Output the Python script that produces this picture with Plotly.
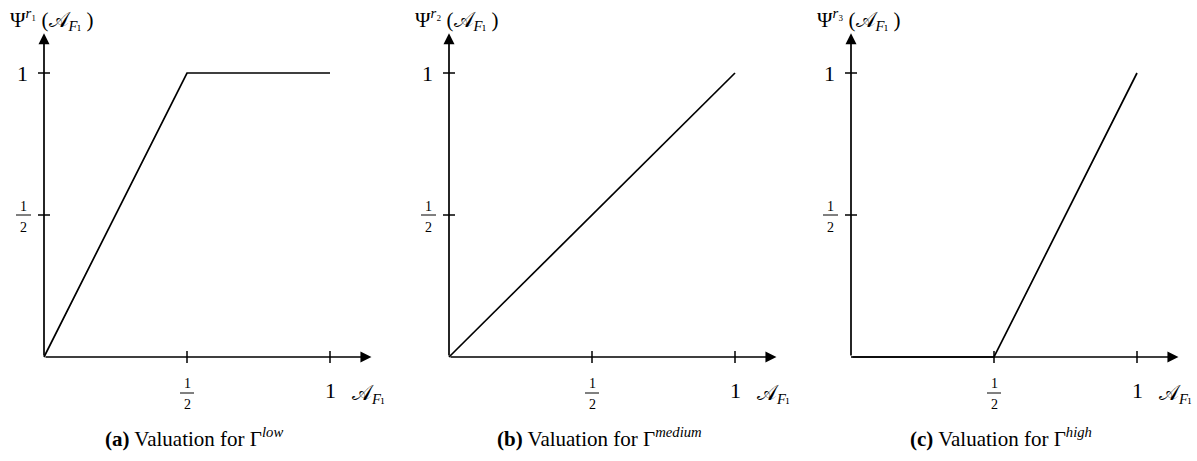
import plotly.graph_objects as go

# Piecewise-linear valuation curves (x = 𝒜_F_l, y = Ψ)
low_x = [0, 0.5, 1]
low_y = [0, 1, 1]
medium_x = [0, 1]
medium_y = [0, 1]
high_x = [0, 0.5, 1]
high_y = [0, 0, 1]

x_ticks = [0.5, 1]
y_ticks = [0.5, 1]
tick_labels = ["1/2", "1"]

y_titles = ["Ψ<sup><i>r</i>₁</sup> (𝒜<sub><i>F</i>ₗ</sub> )",
            "Ψ<sup><i>r</i>₂</sup> (𝒜<sub><i>F</i>ₗ</sub> )",
            "Ψ<sup><i>r</i>₃</sup> (𝒜<sub><i>F</i>ₗ</sub> )"]
x_title = "𝒜<sub><i>F</i>ₗ</sub>"
captions = ["<b>(a)</b> Valuation for Γ<sup><i>low</i></sup>",
            "<b>(b)</b> Valuation for Γ<sup><i>medium</i></sup>",
            "<b>(c)</b> Valuation for Γ<sup><i>high</i></sup>"]

series = [(low_x, low_y), (medium_x, medium_y), (high_x, high_y)]

W, H = 1197, 461
PX_X = 286.0   # pixels per unit on x
PX_Y = 284.0   # pixels per unit on y
origins_px = [44, 449, 851]   # left edge of each panel's origin
origin_y_px = 357             # from top
XR = [-0.12, 1.2]
YR = [-0.3, 1.22]

FONT = "Liberation Serif, DejaVu Serif, serif"
INK = "#000000"

fig = go.Figure()
layout = dict(width=W, height=H, margin=dict(l=0, r=0, t=0, b=0),
              paper_bgcolor="white", plot_bgcolor="white", showlegend=False,
              font=dict(family=FONT, color=INK))
shapes, annotations = [], []

for i, (xs, ys) in enumerate(series):
    n = "" if i == 0 else str(i + 1)
    ox = origins_px[i]
    x0 = (ox + XR[0] * PX_X) / W
    x1 = (ox + XR[1] * PX_X) / W
    oy = H - origin_y_px
    y0 = (oy + YR[0] * PX_Y) / H
    y1 = (oy + YR[1] * PX_Y) / H
    ax_common = dict(visible=False, fixedrange=True)
    layout["xaxis" + n] = dict(domain=[x0, x1], range=XR, anchor="y" + n, **ax_common)
    layout["yaxis" + n] = dict(domain=[y0, y1], range=YR, anchor="x" + n, **ax_common)
    xr, yr = "x" + n, "y" + n

    fig.add_trace(go.Scatter(x=xs, y=ys, mode="lines", xaxis=xr, yaxis=yr,
                             line=dict(color=INK, width=1.7), hoverinfo="skip"))

    # axis arrows
    tip_x, tip_y = 1.145, 1.14
    for (tx, ty) in [(tip_x, 0), (0, tip_y)]:
        annotations.append(dict(x=tx, y=ty, ax=0, ay=0, xref=xr, yref=yr,
                                axref=xr, ayref=yr, showarrow=True, text="",
                                arrowhead=2, arrowsize=1.3, arrowwidth=1.7,
                                arrowcolor=INK, standoff=0, startstandoff=0))

    # ticks
    tdx = 6 / PX_X
    tdy = 6 / PX_Y
    for t in x_ticks:
        shapes.append(dict(type="line", xref=xr, yref=yr, x0=t, x1=t, y0=-tdy, y1=tdy,
                           line=dict(color=INK, width=1.5)))
    for t in y_ticks:
        shapes.append(dict(type="line", xref=xr, yref=yr, x0=-tdx, x1=tdx, y0=t, y1=t,
                           line=dict(color=INK, width=1.5)))

    # tick labels
    for t, lab in zip(x_ticks, tick_labels):
        if lab == "1/2":
            annotations.append(dict(x=t, y=0, xref=xr, yref=yr, text="1", showarrow=False,
                                    yshift=-26, font=dict(size=14)))
            annotations.append(dict(x=t, y=0, xref=xr, yref=yr, text="2", showarrow=False,
                                    yshift=-47, font=dict(size=14)))
            shapes.append(dict(type="line", xref=xr, yref=yr, x0=t - 7 / PX_X, x1=t + 7 / PX_X,
                               y0=-36 / PX_Y, y1=-36 / PX_Y, line=dict(color=INK, width=1)))
        else:
            annotations.append(dict(x=t, y=0, xref=xr, yref=yr, text=lab, showarrow=False,
                                    yshift=-33, font=dict(size=22)))
    for t, lab in zip(y_ticks, tick_labels):
        if lab == "1/2":
            annotations.append(dict(x=0, y=t, xref=xr, yref=yr, text="1", showarrow=False,
                                    xshift=-21, yshift=9, font=dict(size=14)))
            annotations.append(dict(x=0, y=t, xref=xr, yref=yr, text="2", showarrow=False,
                                    xshift=-21, yshift=-12, font=dict(size=14)))
            shapes.append(dict(type="line", xref=xr, yref=yr, x0=-28 / PX_X, x1=-13 / PX_X,
                               y0=t, y1=t, line=dict(color=INK, width=1)))
        else:
            annotations.append(dict(x=0, y=t, xref=xr, yref=yr, text=lab, showarrow=False,
                                    xshift=-22, yshift=0, font=dict(size=22)))

    # axis titles
    annotations.append(dict(x=0, y=tip_y, xref=xr, yref=yr, text=y_titles[i], showarrow=False,
                            xshift=7, yshift=14, font=dict(size=21)))
    annotations.append(dict(x=1, y=0, xref=xr, yref=yr, text=x_title, showarrow=False,
                            xshift=38, yshift=-37, font=dict(size=21)))
    # caption
    annotations.append(dict(x=0.525, y=0, xref=xr, yref=yr, text=captions[i], showarrow=False,
                            yshift=-80, font=dict(size=21)))

layout["shapes"] = shapes
layout["annotations"] = annotations
fig.update_layout(**layout)
fig.write_html("out.html")
